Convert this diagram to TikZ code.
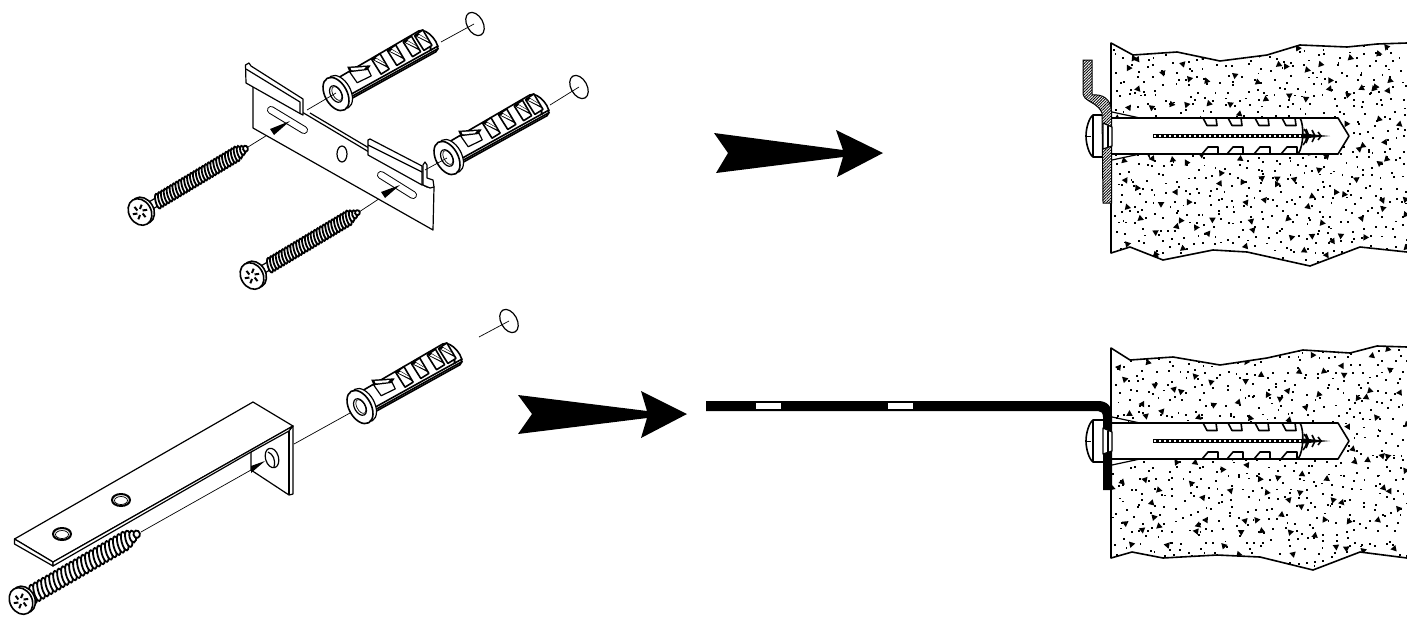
\documentclass[tikz,border=0pt]{standalone}
\usetikzlibrary{patterns.meta}
\tikzset{
  ln/.style={line width=.6pt,black,line join=round},
  fn/.style={line width=.35pt,black},
  md/.style={line width=.8pt,black,line join=round},
  hatchfill/.style={draw=black,line width=.5pt,pattern={Lines[angle=45,distance=1pt,line width=.42pt]}},
}
% screw: x y angle length halfwidth threadstart step
\newcommand\screwdraw[7]{%
\begin{scope}[shift={(#1,#2)},rotate=#3]
  \draw[ln,fill=white] (6,-4) -- (#6+2,-4) -- (#6+2,4) -- (6,4) -- cycle;
  \pgfmathsetmacro\nx{#6+#7}
  \foreach \x in {#6,\nx,...,#4}{
    \pgfmathsetmacro\w{min(#5,(#4-\x)*0.5+1.5)}
    \draw[line width=.9pt,fill=white,shift={(\x,0)},rotate=-16] (0,0) ellipse (#7*.7 and \w);
  }
  \draw[md,fill=white] (3,0) ellipse (11 and 14);
  \draw[md,fill=white] (0,0) ellipse (11 and 14);
  \foreach \a in {0,60,...,300}{ \draw[line width=1pt] (\a:3) -- (\a+14:7.5); }
\end{scope}}
% dowel: x y angle length
\newcommand\doweldraw[4]{%
\begin{scope}[shift={(#1,#2)},rotate=#3]
  \draw[md,fill=white] (5,-13) -- (#4-12,-15) .. controls (#4-3,-15) and (#4+2,10) .. (#4-7,11.5) -- (5,11.5) -- cycle;
  \draw[line width=.8pt] (10,7.5) -- (#4-2,7.5);
  \draw[line width=.8pt] (10,9.8) -- (#4-3,9.8);
  \draw[line width=1pt] (#4-12,-15) .. controls (#4-8,-8) and (#4-8,2) .. (#4-11,8);
  % wing
  \draw[ln,fill=white] (22.6,-13) -- (40,-6) -- (39.6,1.3) -- (24,.4) -- cycle;
  \fill[black] (23,-18.4) -- (44.3,-8.3) -- (40,-6) -- (22.6,-13.8) -- cycle;
  \fill[white] (25.5,-15.6) -- (39,-9.2) -- (36,-8.2) -- (25,-13.4) -- cycle;
  % slots
  \foreach \x in {48,66,84,97}{
    \draw[md,fill=white] (\x,-13) -- (\x+10,-14) -- (\x+10.5,4) -- (\x+1,4.5) -- cycle;
    \fill[black] (\x,-13) -- (\x+4,-13.4) -- (\x+10.5,-2) -- (\x+10.5,3) -- cycle;
    \fill[white] (\x+2.2,-11) -- (\x+4.4,-11.5) -- (\x+9.4,-3) -- (\x+9.4,-1) -- cycle;
  }
  \draw[ln,fill=white] (4,0) ellipse (11 and 18);
  \draw[md,fill=white] (0,0) ellipse (11 and 18);
  \draw[ln] (0,0) ellipse (5.5 and 9);
  \draw[fn] (1,0) ellipse (4 and 7.5);
\end{scope}}
% stipple over a rectangle: x y seed
\newcommand\stipple[3]{%
  \pgfmathsetseed{#3}
  \foreach \i in {1,...,30}{\foreach \j in {1,...,23}{
    \pgfmathsetmacro\px{#1+(\i-rnd)*9.9}\pgfmathsetmacro\py{#2+(\j-rnd)*9.9}
    \fill[black] (\px,\py) rectangle ++(1.9,1.9); }}
  \foreach \i in {1,...,13}{\foreach \j in {1,...,10}{
    \pgfmathsetmacro\px{#1+(\i-rnd)*22.8}\pgfmathsetmacro\py{#2+(\j-rnd)*22.8}\pgfmathsetmacro\pa{rnd*360}
    \fill[black] (\px,\py) ++(\pa:3) -- ++(\pa+150:6.5) -- ++(\pa+270:6.5) -- cycle; }}
}
% dowel, hole and head in section
\newcommand\anchorsection{%
  \draw[md,fill=white] (1112,118) -- (1338,118) -- (1349,136) -- (1338,154) -- (1112,154);
  \draw[ln] (1112,112) -- (1140,118);
  \draw[ln] (1112,160) -- (1140,154);
  \foreach \x in {1203,1228,1255,1282}{
    \draw[md] (\x,118) -- (\x+4,125.5) -- (\x+14,125.5) -- (\x+13,118);
    \draw[md] (\x-1,154) -- (\x+5,147) -- (\x+15,147) -- (\x+15,154);
  }
  \draw[md] (1300,118) .. controls (1304,124) and (1304,146) .. (1298,154);
  \draw[line width=2.2pt,black] (1153,136) -- (1302,136);
  \draw[line width=.7pt,white,dash pattern=on 1.2pt off 1.3pt] (1154,136) -- (1302,136);
  \fill[black] (1303,133.5) -- (1330,136) -- (1303,138.5) -- cycle;
  \foreach \x/\h in {1308/7,1314/6,1320/4}{ \draw[line width=.8pt] (\x-2,136-\h) -- (\x+1,136) -- (\x-2,136+\h); }
  \draw[line width=.8pt] (1304,129) .. controls (1308,133) and (1308,139) .. (1303,145);
  \draw[md,fill=white] (1103,115) -- (1093,115) .. controls (1089,118) and (1086,128) .. (1086,136) .. controls (1086,144) and (1089,154) .. (1093,157) -- (1103,157);
  \draw[ln] (1093,115) -- (1093,157);
  \draw[fn] (1086,136) -- (1091,136);
}
\newcommand\recessdraw{%
  \draw[ln,fill=white] (1103,123) -- (1112,127) -- (1112,146) -- (1103,149) -- cycle;
  \draw[ln] (1108,126) -- (1108,147);
}
\begin{document}
\begin{tikzpicture}[x=.5pt,y=-.5pt]
\useasboundingbox (0,0) rectangle (1407,616);
\fill[white] (0,0) rectangle (1407,616);

% ---- upper wall
\begin{scope}
  \clip (1111,43) -- (1133,55) -- (1177,52) -- (1220,61) -- (1267,55) -- (1300,45) -- (1347,47) -- (1377,44) -- (1407,43) -- (1407,252) -- (1360,247) -- (1310,266) -- (1247,252) -- (1213,250) -- (1163,260) -- (1130,247) -- (1111,253) -- cycle;
  \stipple{1111}{43}{17}
\end{scope}
\draw[md] (1407,43) -- (1377,44) -- (1347,47) -- (1300,45) -- (1267,55) -- (1220,61) -- (1177,52) -- (1133,55) -- (1111,43) -- (1111,253) -- (1130,247) -- (1163,260) -- (1213,250) -- (1247,252) -- (1310,266) -- (1360,247) -- (1407,252);
\anchorsection
\fill[white] (1083,60) -- (1092,60) -- (1092,95) .. controls (1102,94) and (1111,98) .. (1111.5,112) -- (1111.5,203) -- (1103,203) -- (1102,113) .. controls (1098,104) and (1092,104) .. (1085,98) .. controls (1083,96) and (1083,94) .. (1083,91) -- cycle;
\draw[hatchfill] (1083,60) -- (1092,60) -- (1092,95) .. controls (1102,94) and (1111,98) .. (1111.5,112) -- (1111.5,203) -- (1103,203) -- (1102,113) .. controls (1098,104) and (1092,104) .. (1085,98) .. controls (1083,96) and (1083,94) .. (1083,91) -- cycle;
\recessdraw

% ---- lower wall
\begin{scope}
  \clip (1111,348) -- (1130,360) -- (1173,357) -- (1220,365) -- (1267,358) -- (1303,350) -- (1350,353) -- (1377,346) -- (1407,347) -- (1407,558) -- (1360,552) -- (1313,570) -- (1260,557) -- (1217,555) -- (1163,558) -- (1132,552) -- (1111,558) -- cycle;
  \stipple{1111}{346}{4242}
\end{scope}
\draw[md] (1407,347) -- (1377,346) -- (1350,353) -- (1303,350) -- (1267,358) -- (1220,365) -- (1173,357) -- (1130,360) -- (1111,348) -- (1111,558) -- (1132,552) -- (1163,558) -- (1217,555) -- (1260,557) -- (1313,570) -- (1360,552) -- (1407,558);
\begin{scope}[shift={(0,305)}]\anchorsection\end{scope}
\fill[black] (706,401) -- (1098,401) .. controls (1108,401) and (1112,407) .. (1112,416) -- (1112,490) -- (1103,490) -- (1103,417) .. controls (1103,413) and (1101,411) .. (1098,411) -- (706,411) -- cycle;
\fill[white] (756,403) rectangle (781,409);
\fill[white] (888,403) rectangle (913,409);
\begin{scope}[shift={(0,305)}]\recessdraw\end{scope}

% ---- big arrows
\fill[black] (714,133) -- (843,150) -- (836,130) -- (883,153) -- (837,177) -- (843,157) -- (716,173) -- (728,153) -- cycle;
\fill[black] (518,395) -- (647,411) -- (641,391) -- (687,414) -- (641,438) -- (647,418) -- (518,434) -- (532,414) -- cycle;

% ---- upper bracket
\draw[fn] (248,147) -- (290,121);
\draw[fn] (359,212) -- (400,185);
\draw[ln,fill=white] (253,85) -- (253,128) -- (433,230) -- (434,187) -- (427,187) -- (423,185) -- (369,152) -- (307,115) -- (302,112) -- cycle;
\draw[ln] (310,113) -- (369,148);
\draw[line width=4pt,black,line cap=round] (271,110) -- (304,130);
\draw[line width=3pt,white,line cap=round] (271,110) -- (304,130);
\draw[line width=4pt,black,line cap=round] (381,175) -- (413,195);
\draw[line width=3pt,white,line cap=round] (381,175) -- (413,195);
\draw[ln,fill=white] (342,154) ellipse (5 and 8);
\draw[ln,fill=white] (245.5,65) -- (249,63) -- (251,66) -- (303,99) -- (303,115) -- (300,113.5) -- (246,83) -- cycle;
\draw[ln] (246,69) -- (300,102) -- (300,113.5);
\draw[ln,fill=white] (368,140) -- (370,139) -- (422,166) -- (422,185) -- (368,155) -- cycle;
\draw[ln] (368,145) -- (422,172);
\draw[ln,fill=white] (423,170) -- (423,165) -- (425,162) -- (427,165) -- (427,178) -- (433,180) -- (434,187) -- (430,188) -- (423,185) -- cycle;
\fill[black] (290,121) -- (274,135) -- (270,129) -- cycle;
\fill[black] (400,185) -- (385,198) -- (381,192) -- cycle;

% ---- dowels
\doweldraw{336}{94}{29}{115}
\doweldraw{447}{158}{29}{115}
\doweldraw{360}{407}{29}{115}
\draw[fn] (307,110) -- (336,93);
\draw[fn] (425,170) -- (447,158);
\draw[fn] (441,42) -- (474,24);
\draw[fn] (550,105) -- (579,87);
\draw[fn] (479,337) -- (509,321);
\draw[fn] (294,444) -- (350,413);
\draw[ln,rotate around={29:(475,24)}] (475,24) ellipse (8 and 12.5);
\draw[ln,rotate around={29:(579,87)}] (579,87) ellipse (8 and 12.5);
\draw[ln,rotate around={29:(509,321)}] (509,321) ellipse (8 and 12.5);

% ---- screws
\screwdraw{140}{212}{31}{126}{7.5}{21}{3.4}
\screwdraw{252}{276}{31}{125}{7.5}{21}{3.4}

% ---- lower bracket
\draw[ln,fill=white] (251,452) -- (293,426) -- (293,494) -- (289,495) -- (251,470) -- cycle;
\draw[ln] (289,431) -- (289,495);
\draw[ln,fill=white] (14.5,539) -- (253,402) -- (293,426) -- (53,562) -- cycle;
\draw[ln,fill=white] (14.5,539) -- (14.5,544) -- (53,566) -- (53,562) -- cycle;
\draw[ln,fill=white] (53,566) -- (251,452) -- (289,431) -- (293,426) -- (53,562) -- cycle;
\draw[line width=1pt,fill=white] (121,500) ellipse (9 and 6);
\draw[fn] (121,500.5) ellipse (6.5 and 4);
\draw[line width=1pt,fill=white] (62,534) ellipse (9 and 6);
\draw[fn] (62,534.5) ellipse (6.5 and 4);
\draw[ln,fill=white,rotate around={16:(272,458)}] (272,458) ellipse (6.5 and 10);
\draw[ln] (268,452) .. controls (273,454) and (276,460) .. (274,467);
\draw[fn] (141,532) -- (251,470);
\fill[black] (251,466) -- (265,461) -- (251,473) -- cycle;
\screwdraw{21}{601}{30}{138}{9.5}{14}{4.6}
\end{tikzpicture}
\end{document}
